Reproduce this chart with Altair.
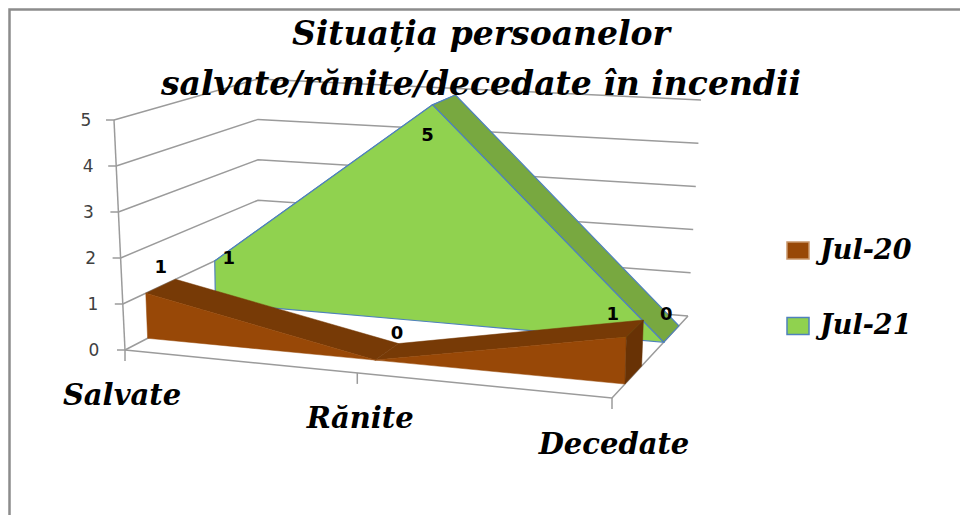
import altair as alt
import pandas as pd

# ---- chart values ----
CATEGORIES = ["Salvate", "Rănite", "Decedate"]
SERIES_NAMES = ["Jul-20", "Jul-21"]
JUL_20 = [1, 0, 1]
JUL_21 = [1, 5, 0]
VALUE_TICKS = [0, 1, 2, 3, 4, 5]
TITLE_LINES = ["Situația persoanelor", "salvate/rănite/decedate în incendii"]

# ---- 3D box: projected corners (t = category axis, d = depth, v = value share) ----
FBL, FTL = (125, 350), (114, 120)
BBL, BTL = (258, 281), (258, 79)
FBR, FTR = (612, 398), (618, 159)
BBR, BTR = (688, 316), (701, 100)
T_PERSPECTIVE = 0.912
VMAX = 5
DEPTH_20 = (0.17, 0.39)
DEPTH_21 = (0.68, 0.88)
SERIES_FONT = "DejaVu Serif"


def mix(a, b, s):
    return (a[0] + (b[0] - a[0]) * s, a[1] + (b[1] - a[1]) * s)


def project(cat, depth, value):
    t = cat / (len(CATEGORIES) - 1)
    u = T_PERSPECTIVE * t / (1 + (T_PERSPECTIVE - 1) * t)
    v = value / VMAX
    bottom = mix(mix(FBL, BBL, depth), mix(FBR, BBR, depth), u)
    top = mix(mix(FTL, BTL, depth), mix(FTR, BTR, depth), u)
    return mix(bottom, top, v)


X = alt.X("x:Q", scale=alt.Scale(domain=[8, 960], nice=False, zero=False), axis=None)
Y = alt.Y("y:Q", scale=alt.Scale(domain=[515, 8], nice=False, zero=False), axis=None)


def path(points, closed=False, fill=None, stroke=None, width=1.0):
    df = pd.DataFrame([{"x": p[0], "y": p[1], "i": k} for k, p in enumerate(points)])
    kw = {"strokeWidth": width, "interpolate": "linear-closed" if closed else "linear"}
    if fill:
        kw["fill"] = fill
    kw["stroke"] = stroke if stroke else fill
    return alt.Chart(df).mark_line(**kw).encode(x=X, y=Y, order=alt.Order("i:Q"))


def text(rows, size, color="#000000", font="DejaVu Sans", weight="normal", style="normal", align="center"):
    return alt.Chart(pd.DataFrame(rows)).mark_text(
        fontSize=size, color=color, font=font, fontWeight=weight, fontStyle=style,
        align=align, baseline="middle",
    ).encode(x=X, y=Y, text="label:N")


layers = []

# frame
GRAY = "#9b9b9b"
layers.append(path([(9.5, 515), (9.5, 9.5), (960, 9.5)], stroke="#8c8c8c", width=2.5))

# walls and floor
n = len(CATEGORIES) - 1
for tick in VALUE_TICKS:
    layers.append(path([project(0, 0, tick), project(0, 1, tick), project(n, 1, tick)], stroke=GRAY, width=1.5))
    a = project(0, 0, tick)
    layers.append(path([(a[0] - 8, a[1]), a], stroke=GRAY, width=1.5))
layers.append(path([project(0, 0, 0), project(n, 0, 0), project(n, 1, 0)], stroke=GRAY, width=1.5))
layers.append(path([project(0, 0, 0), project(0, 0, VMAX)], stroke=GRAY, width=1.5))
for c in range(len(CATEGORIES)):
    a = project(c, 0, 0)
    layers.append(path([a, (a[0], a[1] + 11)], stroke=GRAY, width=1.5))


def ridge(values, d0, d1):
    out = []
    for c in range(n):
        out.append([project(c, d0, values[c]), project(c + 1, d0, values[c + 1]),
                    project(c + 1, d1, values[c + 1]), project(c, d1, values[c])])
    return out


def front(values, d):
    top = [project(c, d, values[c]) for c in range(n + 1)]
    base = [project(c, d, 0) for c in range(n, -1, -1)]
    return top + base


# Jul-21 (behind)
GREEN, GREEN_TOP, BLUE = "#90D24F", "#78A840", "#4F81BD"
for quad in ridge(JUL_21, *DEPTH_21):
    layers.append(path(quad, closed=True, fill=GREEN_TOP, stroke=BLUE, width=1.2))
layers.append(path(front(JUL_21, DEPTH_21[0]), closed=True, fill=GREEN, stroke=BLUE, width=1.2))

# Jul-20 (in front)
BROWN, BROWN_TOP, BROWN_SIDE = "#984807", "#773A06", "#683205"
for quad in ridge(JUL_20, *DEPTH_20):
    layers.append(path(quad, closed=True, fill=BROWN_TOP, width=0.5))
layers.append(path(front(JUL_20, DEPTH_20[0]), closed=True, fill=BROWN, width=0.5))
layers.append(path([project(n, DEPTH_20[0], JUL_20[n]), project(n, DEPTH_20[1], JUL_20[n]),
                    project(n, DEPTH_20[1], 0), project(n, DEPTH_20[0], 0)], closed=True, fill=BROWN_SIDE, width=0.5))

# value axis labels
VALUE_LABEL_DX = [-31, -30, -30, -30, -28, -28]
rows = []
for tick, dx in zip(VALUE_TICKS, VALUE_LABEL_DX):
    a = project(0, 0, tick)
    rows.append({"x": a[0] + dx, "y": a[1] + 1, "label": str(tick)})
layers.append(text(rows, 17, color="#404040"))

# data labels
OFFS_20 = [(0, -18), (10, -18), (-22, -14)]
OFFS_21 = [(14, -2), (-5, 31), (-5, -19)]
rows = []
for c, (v, o) in enumerate(zip(JUL_20, OFFS_20)):
    a = project(c, sum(DEPTH_20) / 2, v)
    rows.append({"x": a[0] + o[0], "y": a[1] + o[1], "label": str(v)})
for c, (v, o) in enumerate(zip(JUL_21, OFFS_21)):
    a = project(c, DEPTH_21[0] if c < 2 else sum(DEPTH_21) / 2, v)
    rows.append({"x": a[0] + o[0], "y": a[1] + o[1], "label": str(v)})
layers.append(text(rows, 18, font="DejaVu Sans", weight="bold"))

# category labels
CAT_OFFS = [(-3, 46), (3, 46), (2, 47)]
rows = []
for c, (name, o) in enumerate(zip(CATEGORIES, CAT_OFFS)):
    a = project(c, 0, 0)
    rows.append({"x": a[0] + o[0], "y": a[1] + o[1], "label": name})
layers.append(text(rows, 29, font=SERIES_FONT, weight="bold", style="italic"))

# title
TITLE_Y = [35, 85]
rows = [{"x": 481, "y": y, "label": s} for s, y in zip(TITLE_LINES, TITLE_Y)]
layers.append(text(rows, 33, font=SERIES_FONT, weight="bold", style="italic"))

# legend
LEG_Y = [250.5, 326]
swatch = pd.DataFrame([
    {"x": 787, "x2": 809, "y": LEG_Y[0] - 8.5, "y2": LEG_Y[0] + 8.5, "f": BROWN, "s": "#c9966b"},
    {"x": 787, "x2": 809, "y": LEG_Y[1] - 8.5, "y2": LEG_Y[1] + 8.5, "f": GREEN, "s": BLUE},
])
layers.append(alt.Chart(swatch).mark_rect(strokeWidth=1.5).encode(
    x=X, x2="x2:Q", y=Y, y2="y2:Q",
    fill=alt.Fill("f:N", scale=None), stroke=alt.Stroke("s:N", scale=None)))
rows = [{"x": 820, "y": y, "label": s} for s, y in zip(SERIES_NAMES, LEG_Y)]
layers.append(text(rows, 27, font=SERIES_FONT, weight="bold", style="italic", align="left"))

chart = alt.layer(*layers).properties(
    width=952, height=507, padding=0, background="#ffffff",
    autosize=alt.AutoSizeParams(type="none"),
).configure_view(stroke=None)

chart.save("out.html", embed_options={"renderer": "svg", "actions": False})
